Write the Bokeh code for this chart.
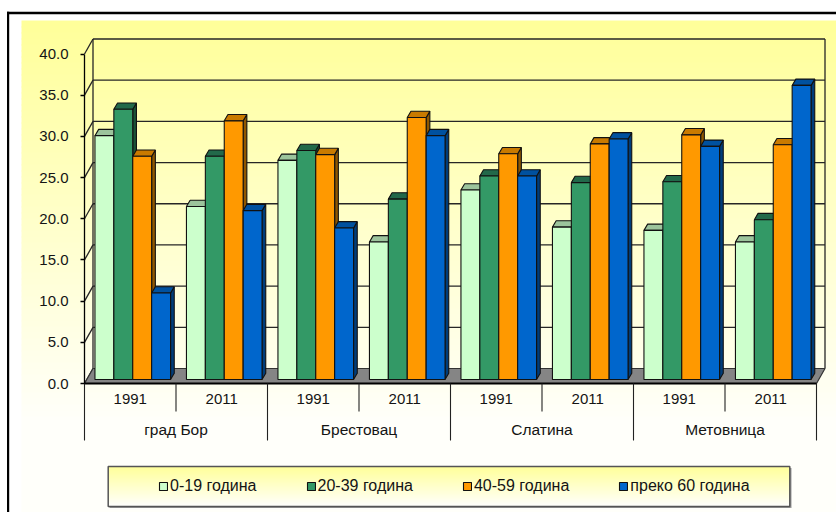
from bokeh.plotting import figure
from bokeh.models import Range1d, LinearAxis, FixedTicker, Legend, LegendItem
from bokeh.core.properties import value
from bokeh.embed import file_html
from bokeh.resources import INLINE

# ---------------- data ----------------
PLACES = ["град Бор", "Брестовац", "Слатина", "Метовница"]
YEARS = ["1991", "2011"]
SERIES = ["0-19 година", "20-39 година", "40-59 година", "преко 60 година"]
# order: Бор 1991, Бор 2011, Брестовац 1991, Брестовац 2011, Слатина 1991, Слатина 2011, Метовница 1991, Метовница 2011
AGE_0_19 = [29.6, 21.0, 26.6, 16.7, 23.0, 18.5, 18.1, 16.7]
AGE_20_39 = [32.8, 27.1, 27.8, 21.9, 24.7, 23.9, 24.0, 19.4]
AGE_40_59 = [27.1, 31.4, 27.3, 31.8, 27.4, 28.6, 29.7, 28.5]
AGE_60_PLUS = [10.5, 20.5, 18.4, 29.6, 24.7, 29.2, 28.3, 35.7]
Y_TICKS = [0, 5, 10, 15, 20, 25, 30, 35, 40]
Y_TICK_LABELS = ["0.0", "5.0", "10.0", "15.0", "20.0", "25.0", "30.0", "35.0", "40.0"]

SERIES_VALUES = [AGE_0_19, AGE_20_39, AGE_40_59, AGE_60_PLUS]

# ---------------- styles ----------------
COLORS_FRONT = ["#CCFFCC", "#339966", "#FF9900", "#0066CC"]
COLORS_TOP = ["#9CC49C", "#22694A", "#C97A00", "#00519F"]
COLORS_SIDE = ["#86AD86", "#1A5236", "#8F5700", "#003D7A"]
FONT = "Liberation Sans"
TEXT_COLOR = "#141414"
EDGE = "#111111"

W, H = 836, 512

# page-pixel geometry of the 3-D frame
SLOT_PX = 91.5      # width of one year slot
X0_PX = 84.0        # front axis x
UNIT_PX = 8.2375    # pixels per value unit
Y0_PX = 383.0       # front floor y


def X(px):
    return (px - X0_PX) / SLOT_PX


def Y(py):
    return (Y0_PX - py) / UNIT_PX


DEPTH_DX = 8.5 / SLOT_PX
DEPTH_DY = 15.0 / UNIT_PX
BAR_W = 18.9 / SLOT_PX
BAR_SHIFT = 2.5 / SLOT_PX
BAR_BASE = 4.0 / UNIT_PX
CAP_DX = 3.7 / SLOT_PX
CAP_DY = 6.3 / UNIT_PX

n_slots = len(PLACES) * len(YEARS)
y_max = Y_TICKS[-1]

p = figure(width=W, height=H, output_backend="svg", toolbar_location=None,
           x_range=Range1d(X(0), X(W)), y_range=Range1d(Y(H), Y(0)),
           x_axis_location=None, y_axis_location=None, min_border=0,
           background_fill_color="white", border_fill_color="white")
p.title = None
p.outline_line_color = None
p.xgrid.visible = False
p.ygrid.visible = False

# ---- chart area gradient background ----
bl, br, bt, bb, bc = [], [], [], [], []
for py in range(20, H, 6):
    f = min(1.0, max(0.0, (py + 3 - 20) / 400.0))
    b = int(round(153 + 97 * f))
    bl.append(X(21)); br.append(X(W))
    bt.append(Y(py)); bb.append(Y(min(py + 7, H)))
    bc.append("#ffff%02x" % b)
p.quad(left=bl, right=br, top=bt, bottom=bb, fill_color=bc, line_color=None)

# outer black frame (top and left)
p.quad(left=[X(6.5)], right=[X(W)], top=[Y(11.3)], bottom=[Y(13.7)], fill_color="black", line_color=None)
p.quad(left=[X(6.5)], right=[X(8.7)], top=[Y(11.3)], bottom=[Y(H)], fill_color="black", line_color=None)

# ---- walls: gridlines on back wall, diagonals on left wall ----
GRID = "#262626"
p.segment(x0=[DEPTH_DX] * (len(Y_TICKS) - 1), y0=[t + DEPTH_DY for t in Y_TICKS[1:]],
          x1=[n_slots + DEPTH_DX] * (len(Y_TICKS) - 1), y1=[t + DEPTH_DY for t in Y_TICKS[1:]],
          line_color=GRID, line_width=1.3)
p.segment(x0=[0] * len(Y_TICKS), y0=Y_TICKS,
          x1=[DEPTH_DX] * len(Y_TICKS), y1=[t + DEPTH_DY for t in Y_TICKS],
          line_color=GRID, line_width=1.3)
p.segment(x0=[DEPTH_DX, n_slots + DEPTH_DX], y0=[DEPTH_DY, DEPTH_DY],
          x1=[DEPTH_DX, n_slots + DEPTH_DX], y1=[y_max + DEPTH_DY, y_max + DEPTH_DY],
          line_color=GRID, line_width=1.3)

# ---- floor ----
p.patch(x=[0, n_slots, n_slots + DEPTH_DX, DEPTH_DX],
        y=[0, 0, DEPTH_DY, DEPTH_DY],
        fill_color="#858585", line_color="#333333", line_width=1.2)

# ---- bars (3-D look) ----
front_renderers = []
for k, vals in enumerate(SERIES_VALUES):
    lefts, rights, tops = [], [], []
    side_xs, side_ys, top_xs, top_ys = [], [], [], []
    for i, v in enumerate(vals):
        xl = i + 0.5 + BAR_SHIFT + (k - 2) * BAR_W
        xr = xl + BAR_W
        top = BAR_BASE + v
        lefts.append(xl); rights.append(xr); tops.append(top)
        side_xs.append([xr, xr + CAP_DX, xr + CAP_DX, xr])
        side_ys.append([BAR_BASE, BAR_BASE + CAP_DY, top + CAP_DY, top])
        top_xs.append([xl, xr, xr + CAP_DX, xl + CAP_DX])
        top_ys.append([top, top, top + CAP_DY, top + CAP_DY])
    p.patches(xs=side_xs, ys=side_ys, fill_color=COLORS_SIDE[k], line_color=EDGE, line_width=1.1)
    p.patches(xs=top_xs, ys=top_ys, fill_color=COLORS_TOP[k], line_color=EDGE, line_width=1.1)
    r = p.quad(left=lefts, right=rights, bottom=[BAR_BASE] * len(vals), top=tops,
               fill_color=COLORS_FRONT[k], line_color=EDGE, line_width=1.1)
    front_renderers.append(r)

# ---- category table under the floor ----
p.segment(x0=[0], y0=[0], x1=[n_slots], y1=[0], line_color="black", line_width=1.8)
grp_x = [2 * g for g in range(len(PLACES) + 1)]
p.segment(x0=grp_x, y0=[0] * len(grp_x), x1=grp_x, y1=[Y(440)] * len(grp_x),
          line_color="#222222", line_width=1.1)
yr_x = [2 * g + 1 for g in range(len(PLACES))]
p.segment(x0=yr_x, y0=[0] * len(yr_x), x1=yr_x, y1=[Y(411)] * len(yr_x),
          line_color="#222222", line_width=1.1)

p.text(x=[i + 0.5 for i in range(n_slots)], y=[Y(398)] * n_slots,
       text=[YEARS[i % len(YEARS)] for i in range(n_slots)],
       text_font=value(FONT), text_font_size="15px", text_color=TEXT_COLOR,
       text_align="center", text_baseline="middle")
p.text(x=[2 * g + 1 for g in range(len(PLACES))], y=[Y(429)] * len(PLACES), text=PLACES,
       text_font=value(FONT), text_font_size="15.5px", text_color=TEXT_COLOR,
       text_align="center", text_baseline="middle")

# ---- y axis on the front edge ----
yaxis = LinearAxis(fixed_location=0, ticker=FixedTicker(ticks=Y_TICKS), bounds=(0, y_max))
yaxis.major_label_overrides = {t: lab for t, lab in zip(Y_TICKS, Y_TICK_LABELS)}
yaxis.major_label_text_font = FONT
yaxis.major_label_text_font_size = "15px"
yaxis.major_label_text_color = TEXT_COLOR
yaxis.major_label_standoff = 12
yaxis.major_tick_out = 4
yaxis.major_tick_in = 0
yaxis.minor_tick_out = 0
yaxis.minor_tick_in = 0
yaxis.axis_line_color = "black"
yaxis.axis_line_width = 1.3
yaxis.major_tick_line_width = 1.3
p.add_layout(yaxis, "left")

# ---- legend box (gradient) ----
ll, lr, lt, lb, lc = [], [], [], [], []
for py in range(466, 506, 2):
    f = (py + 1 - 466) / 40.0
    b = int(round(153 + 100 * f))
    ll.append(X(107.7)); lr.append(X(789.3))
    lt.append(Y(py)); lb.append(Y(min(py + 3, 506)))
    lc.append("#ffff%02x" % b)
p.quad(left=[X(109)], right=[X(791)], top=[Y(467.5)], bottom=[Y(507.5)], fill_color="#9a9a9a", line_color=None)
p.quad(left=ll, right=lr, top=lt, bottom=lb, fill_color=lc, line_color=None)
p.quad(left=[X(107.7)], right=[X(789.3)], top=[Y(466)], bottom=[Y(506)],
       fill_color=None, line_color="#555555", line_width=1.5)

legend = Legend(items=[LegendItem(label=s, renderers=[r]) for s, r in zip(SERIES, front_renderers)],
                orientation="horizontal", location=(158, 17),
                glyph_width=10, glyph_height=10, label_standoff=2, spacing=49,
                padding=0, margin=0, background_fill_alpha=0, border_line_alpha=0,
                label_text_font=FONT, label_text_font_size="16px", label_text_color=TEXT_COLOR,
                label_height=18)
p.add_layout(legend)

open("out.html", "w").write(file_html(p, INLINE))
